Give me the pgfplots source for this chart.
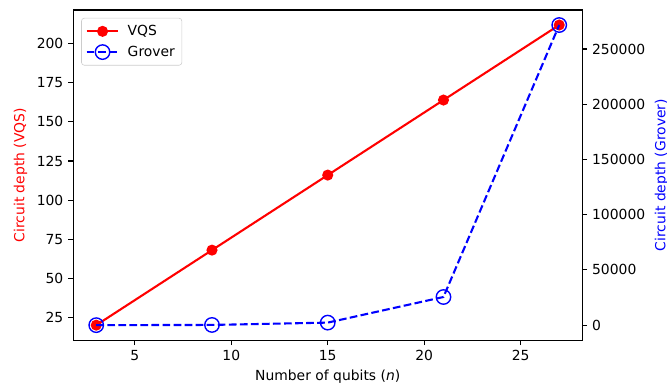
\documentclass[border=0pt]{standalone}
\usepackage{pgfplots}
\pgfplotsset{compat=1.18}
\usepackage{fontspec}
\setmainfont{DejaVu Sans}
\definecolor{mplred}{rgb}{1,0,0}
\definecolor{mplblue}{rgb}{0,0,1}
\begin{document}
\begin{tikzpicture}
\pgfplotsset{
  every axis/.append style={
    width=366.5pt, height=237.6pt, scale only axis,
    font=\fontsize{10}{12}\selectfont,
    /pgf/number format/assume math mode=true,
    tick align=outside, major tick length=3.5pt,
    axis line style={line width=0.8pt, black},
    every tick/.style={black, line width=0.8pt},
    xmin=1.8, xmax=28.2,
    scaled y ticks=false,
    /pgf/number format/fixed, /pgf/number format/1000 sep={},
  },
}
\begin{axis}[
  ymin=10.4, ymax=221.6,
  xtick={5,10,15,20,25},
  ytick={25,50,75,100,125,150,175,200},
  tick pos=left,
  xlabel={Number of qubits (\textit{n})},
  ylabel={Circuit depth (VQS)},
  ylabel style={text=mplred},
  legend style={at={(0.016,0.976)}, anchor=north west, draw=black!20, rounded corners=2pt,
     font=\fontsize{10}{12}\selectfont, inner sep=3pt, row sep=2pt, column sep=4pt},
  legend cell align=left,
  legend image code/.code={\draw[mark repeat=2,mark phase=2,#1] plot coordinates {(0cm,0cm) (0.4cm,0cm) (0.8cm,0cm)};},
]
\addplot[mplred, line width=1.5pt, mark=*, mark size=3.2pt, mark options={solid, fill=mplred}]
  coordinates {(3,20) (9,68) (15,116) (21,164) (27,212)};
\addlegendentry{VQS}
\addlegendimage{mplblue, line width=1.5pt, dash pattern=on 5.55pt off 2.4pt, mark=o, mark size=5.2pt, mark options={solid, line width=1pt}}
\addlegendentry{Grover}
\end{axis}
\begin{axis}[
  ymin=-13590, ymax=285300,
  axis x line=none,
  axis y line*=right,
  ytick={0,50000,100000,150000,200000,250000},
  ylabel={Circuit depth (Grover)},
  ylabel style={text=mplblue},
]
\addplot[mplblue, line width=1.5pt, dash pattern=on 5.55pt off 2.4pt, mark=o, mark size=5.2pt, mark options={solid, line width=1pt}]
  coordinates {(3,20) (9,200) (15,2300) (21,25500) (27,271700)};
\end{axis}
\pgfresetboundingbox
\path[use as bounding box] (-52.6pt,-34.2pt) rectangle (427.4pt,244.8pt);
\end{tikzpicture}
\end{document}
